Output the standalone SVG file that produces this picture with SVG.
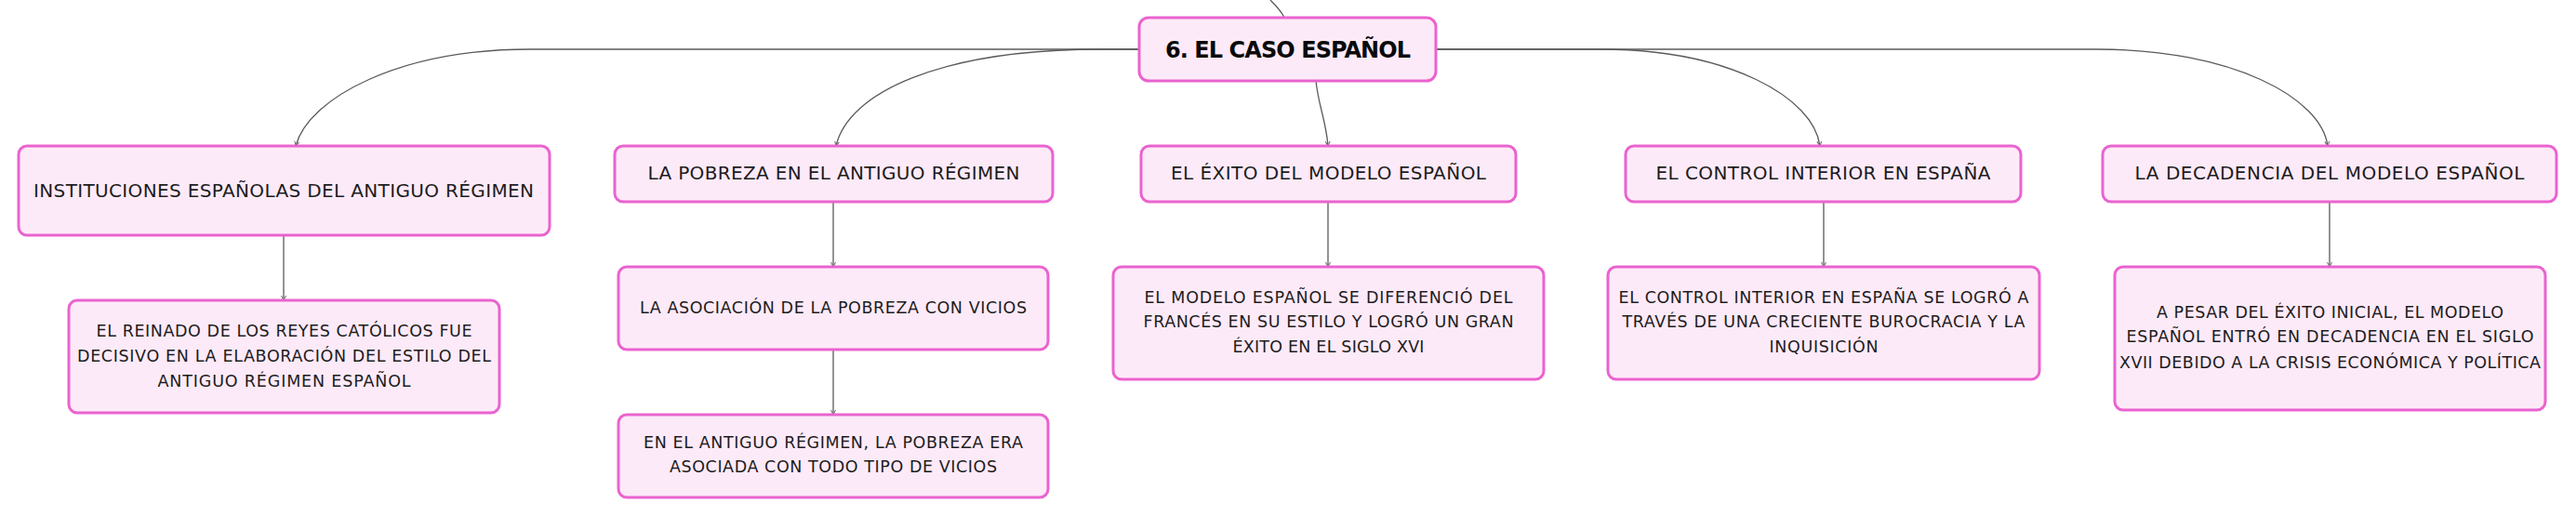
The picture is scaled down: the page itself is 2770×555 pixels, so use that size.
<svg xmlns="http://www.w3.org/2000/svg" width="2770" height="555" viewBox="0 0 2770 555">
<defs>
<marker id="arr" markerUnits="userSpaceOnUse" markerWidth="6" markerHeight="6" refX="5" refY="3" orient="auto">
<path d="M0,0.5 L5,3 L0,5.5" fill="none" stroke="#666" stroke-width="1"/>
</marker>
<style>
.box{fill:#fdeaf8;stroke:#ea63cf;stroke-width:3}
.t{font-family:"DejaVu Sans","Liberation Sans",sans-serif;font-size:20px;fill:#1c1c1c;text-anchor:middle}
.s{font-family:"DejaVu Sans","Liberation Sans",sans-serif;font-size:17.5px;fill:#1c1c1c;text-anchor:middle}
.c{font-family:"DejaVu Sans","Liberation Sans",sans-serif;font-size:24px;font-weight:bold;fill:#0a0a0a;text-anchor:middle}
.ln{fill:none;stroke:#5a5a5a;stroke-width:1.3}
</style>
</defs>
<rect width="2770" height="555" fill="#ffffff"/>
<g id="connectors">
<path class="ln" d="M1366,0 C1372,6 1378,12 1381,19"/>
<path class="ln" marker-end="url(#arr)" d="M1225,53 L570,53 C430,53 332,105 318,157"/>
<path class="ln" marker-end="url(#arr)" d="M1225,53 L1185,53 C1010,53 912,100 899,157"/>
<path class="ln" marker-end="url(#arr)" d="M1415,87 C1418,115 1426,130 1428,157"/>
<path class="ln" marker-end="url(#arr)" d="M1544,53 L1720,53 C1860,53 1950,105 1957,157"/>
<path class="ln" marker-end="url(#arr)" d="M1544,53 L2255,53 C2400,53 2496,105 2503,157"/>
<path class="ln" marker-end="url(#arr)" d="M305,253 L305,323"/>
<path class="ln" marker-end="url(#arr)" d="M896,217 L896,287"/>
<path class="ln" marker-end="url(#arr)" d="M896,376 L896,446"/>
<path class="ln" marker-end="url(#arr)" d="M1428,217 L1428,287"/>
<path class="ln" marker-end="url(#arr)" d="M1961,217 L1961,287"/>
<path class="ln" marker-end="url(#arr)" d="M2505,217 L2505,287"/>
</g>
<g id="root">
<rect class="box" x="1225" y="19" width="319" height="68" rx="10"/>
<text class="c" x="1385" y="62" textLength="264">6. EL CASO ESPAÑOL</text>
</g>
<g id="n1">
<rect class="box" x="20" y="157" width="571" height="96" rx="9"/>
<text class="t" x="305" y="212" textLength="538">INSTITUCIONES ESPAÑOLAS DEL ANTIGUO RÉGIMEN</text>
</g>
<g id="n1a">
<rect class="box" x="74" y="323" width="463" height="121" rx="9"/>
<text class="s" x="305.5" y="362" textLength="404">EL REINADO DE LOS REYES CATÓLICOS FUE</text>
<text class="s" x="305.5" y="389" textLength="445">DECISIVO EN LA ELABORACIÓN DEL ESTILO DEL</text>
<text class="s" x="305.5" y="416" textLength="272">ANTIGUO RÉGIMEN ESPAÑOL</text>
</g>
<g id="n2">
<rect class="box" x="661" y="157" width="471" height="60" rx="9"/>
<text class="t" x="896.5" y="193" textLength="400">LA POBREZA EN EL ANTIGUO RÉGIMEN</text>
</g>
<g id="n2a">
<rect class="box" x="665" y="287" width="462" height="89" rx="9"/>
<text class="s" x="896" y="337" textLength="416">LA ASOCIACIÓN DE LA POBREZA CON VICIOS</text>
</g>
<g id="n2b">
<rect class="box" x="665" y="446" width="462" height="89" rx="9"/>
<text class="s" x="896" y="482" textLength="408">EN EL ANTIGUO RÉGIMEN, LA POBREZA ERA</text>
<text class="s" x="896" y="508" textLength="352">ASOCIADA CON TODO TIPO DE VICIOS</text>
</g>
<g id="n3">
<rect class="box" x="1227" y="157" width="403" height="60" rx="9"/>
<text class="t" x="1428.5" y="193" textLength="339">EL ÉXITO DEL MODELO ESPAÑOL</text>
</g>
<g id="n3a">
<rect class="box" x="1197" y="287" width="463" height="121" rx="9"/>
<text class="s" x="1428.5" y="326" textLength="396">EL MODELO ESPAÑOL SE DIFERENCIÓ DEL</text>
<text class="s" x="1428.5" y="352" textLength="398">FRANCÉS EN SU ESTILO Y LOGRÓ UN GRAN</text>
<text class="s" x="1428.5" y="379" textLength="206">ÉXITO EN EL SIGLO XVI</text>
</g>
<g id="n4">
<rect class="box" x="1748" y="157" width="425" height="60" rx="9"/>
<text class="t" x="1960.5" y="193" textLength="360">EL CONTROL INTERIOR EN ESPAÑA</text>
</g>
<g id="n4a">
<rect class="box" x="1729" y="287" width="464" height="121" rx="9"/>
<text class="s" x="1961" y="326" textLength="441">EL CONTROL INTERIOR EN ESPAÑA SE LOGRÓ A</text>
<text class="s" x="1961" y="352" textLength="433">TRAVÉS DE UNA CRECIENTE BUROCRACIA Y LA</text>
<text class="s" x="1961" y="379" textLength="117">INQUISICIÓN</text>
</g>
<g id="n5">
<rect class="box" x="2261" y="157" width="488" height="60" rx="9"/>
<text class="t" x="2505" y="193" textLength="419">LA DECADENCIA DEL MODELO ESPAÑOL</text>
</g>
<g id="n5a">
<rect class="box" x="2274" y="287" width="463" height="154" rx="9"/>
<text class="s" x="2505.5" y="342" textLength="373">A PESAR DEL ÉXITO INICIAL, EL MODELO</text>
<text class="s" x="2505.5" y="368" textLength="438">ESPAÑOL ENTRÓ EN DECADENCIA EN EL SIGLO</text>
<text class="s" x="2505.5" y="396" textLength="453">XVII DEBIDO A LA CRISIS ECONÓMICA Y POLÍTICA</text>
</g>
</svg>
